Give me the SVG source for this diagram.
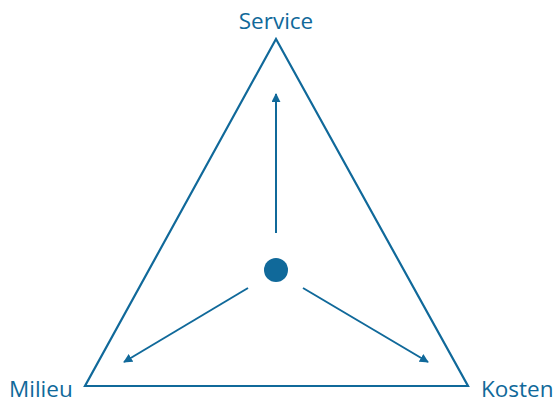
<svg xmlns="http://www.w3.org/2000/svg" width="555" height="403" viewBox="0 0 555 403">
<style>
.lbl{font-family:"Open Sans","Noto Sans","Liberation Sans",sans-serif;font-size:22.5px;fill:#10699a}
.edge{stroke:#10699a;stroke-width:2;fill:none}
</style>
<defs>
<marker id="ah" viewBox="0 0 10 10" refX="9" refY="5" markerWidth="4.5" markerHeight="4.5" orient="auto" markerUnits="strokeWidth">
<path d="M0,0 L10,5 L0,10 z" fill="#10699a"/>
</marker>
</defs>
<rect width="555" height="403" fill="#ffffff"/>
<g id="triangle">
<polygon points="276,39 85,386 468,386" fill="none" stroke="#10699a" stroke-width="2.2" stroke-linejoin="miter"/>
</g>
<g id="service"><text class="lbl" x="276" y="29" text-anchor="middle">Service</text></g>
<g id="milieu"><text class="lbl" x="9" y="397">Milieu</text></g>
<g id="kosten"><text class="lbl" x="481" y="397">Kosten</text></g>
<g id="center"><circle cx="276" cy="270" r="12" fill="#10699a"/></g>
<g id="connectors">
<line class="edge" x1="276" y1="233" x2="276" y2="94" marker-end="url(#ah)"/>
<line class="edge" x1="248" y1="288" x2="124" y2="362" marker-end="url(#ah)"/>
<line class="edge" x1="303" y1="288" x2="428" y2="362" marker-end="url(#ah)"/>
</g>
</svg>
